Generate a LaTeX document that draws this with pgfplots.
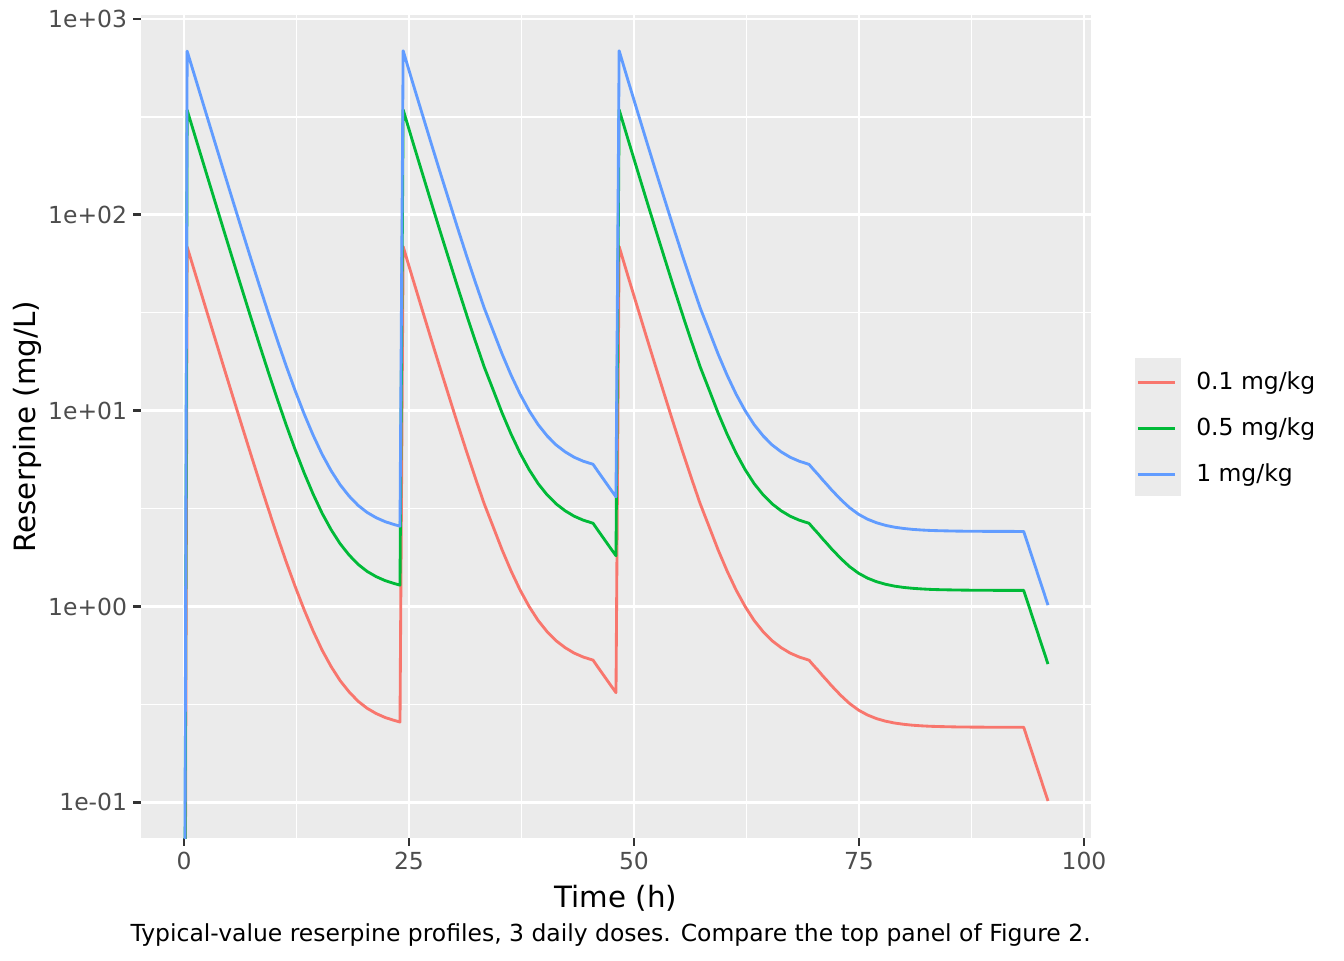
\documentclass[border=0pt]{standalone}
\usepackage{fontspec}
\setmainfont{DejaVu Sans}
\usepackage{pgfplots}
\pgfplotsset{compat=1.18}
\definecolor{ggred}{HTML}{F8766D}
\definecolor{gggreen}{HTML}{00BA38}
\definecolor{ggblue}{HTML}{619CFF}
\definecolor{panelbg}{HTML}{EBEBEB}
\definecolor{gray30}{HTML}{4D4D4D}
\definecolor{gray20}{HTML}{333333}
\newcommand{\smallfont}{\fontsize{8.8pt}{10.56pt}\selectfont}
\newcommand{\titlefont}{\fontsize{11pt}{13.2pt}\selectfont}
\begin{document}
\begin{tikzpicture}
\useasboundingbox (0,0) rectangle (504pt,360pt);
% grey backing of the legend keys
\fill[panelbg] (425.6pt,174.1pt) rectangle (442.9pt,225.75pt);
\begin{axis}[
  at={(52.8pt,45.6375pt)}, anchor=south west,
  scale only axis, width=356.4pt, height=308.74pt,
  xmin=-4.8, xmax=100.8,
  ymode=log, ymin=0.06548, ymax=1047.6,
  axis background/.style={fill=panelbg},
  axis line style={draw=none},
  xtick={0,25,50,75,100}, xticklabels={0,25,50,75,100},
  minor xtick={12.5,37.5,62.5,87.5},
  ytick={0.1,1,10,100,1000},
  yticklabels={1e-01,1e+00,1e+01,1e+02,1e+03},
  minor ytick={0.316227766,3.16227766,31.6227766,316.227766},
  grid=both,
  major grid style={white, line width=1.067pt},
  minor grid style={white, line width=0.533pt},
  tick align=outside, xtick pos=left, ytick pos=left,
  major tick length=2.75pt, minor tick length=0pt,
  tick style={gray20, line width=1.067pt},
  ticklabel style={font=\smallfont, text=gray30, inner sep=0pt},
  xticklabel shift=2.2pt, yticklabel shift=2.2pt,
  xlabel={Time (h)},
  xlabel style={font=\titlefont, at={(axis description cs:0.5,-0.08453)}, anchor=base, inner sep=0pt},
  ylabel={Reserpine (mg/L)},
  ylabel style={font=\titlefont, at={(axis description cs:-0.11027,0.5)}, anchor=base, inner sep=0pt},
  no markers,
  every axis plot/.append style={line width=1.067pt, line join=round},
  legend style={at={(1.04433,0.58209)}, anchor=north west, draw=none, fill=none,
    inner sep=0pt, outer sep=0pt, row sep=0pt, font=\smallfont,
    nodes={inner sep=0pt}},
  legend cell align=left,
  legend image code/.code={
    \draw[#1, line width=1.067pt] (1.73pt,0pt) -- (15.55pt,0pt);
    \path[draw=none, fill=none] (0pt,-8.64pt) rectangle (23.6pt,8.64pt);
  },
]
\addplot[ggred] coordinates {
(0,0.0001) (0.35,68.5) (1.35,48.37) (2.35,34.16) (3.35,24.14) (4.35,17.08)
(5.35,12.11) (6.35,8.607) (7.35,6.134) (8.35,4.393) (9.35,3.167) (10.35,2.303)
(11.35,1.693) (12.35,1.265) (13.35,0.962) (14.35,0.749) (15.35,0.598) (16.35,0.493)
(17.35,0.418) (18.35,0.366) (19.35,0.328) (20.35,0.302) (21.35,0.284) (22.35,0.271)
(23.35,0.262) (24.0,0.257)
(24.35,68.8) (25.35,48.3) (26.35,34.1) (27.35,24.1) (28.35,17.1) (29.35,12.2)
(30.35,8.71) (31.35,6.27) (32.35,4.56) (33.35,3.35) (34.35,2.553) (35.35,1.943)
(36.35,1.515) (37.35,1.212) (38.35,0.999) (39.35,0.848) (40.35,0.743) (41.35,0.668)
(42.35,0.616) (43.35,0.578) (44.35,0.552) (45.45,0.532)
(45.95,0.4927) (46.45,0.4572) (46.95,0.4242) (47.45,0.3936) (48.0,0.363)
(48.35,68.8) (49.35,48.3) (50.35,34.1) (51.35,24.1) (52.35,17.1) (53.35,12.2)
(54.35,8.71) (55.35,6.27) (56.35,4.56) (57.35,3.35) (58.35,2.553) (59.35,1.943)
(60.35,1.515) (61.35,1.212) (62.35,0.999) (63.35,0.848) (64.35,0.743) (65.35,0.668)
(66.35,0.616) (67.35,0.578) (68.35,0.552) (69.45,0.5316)
(69.95,0.500) (70.45,0.4719) (70.95,0.4434) (71.45,0.4184) (71.95,0.3938) (72.45,0.3727)
(72.95,0.3525) (73.45,0.3355) (73.95,0.3196) (74.95,0.2956) (75.95,0.2790) (76.95,0.2675)
(77.95,0.2595) (78.95,0.2540) (79.95,0.2502) (80.95,0.2475) (81.95,0.2457) (82.95,0.2444)
(83.95,0.2436) (85.95,0.2425) (87.95,0.2420) (90.5,0.2417) (93.3,0.2416) (96.0,0.1016)
};
\addlegendentry{0.1 mg/kg}
\addplot[gggreen] coordinates {
(0,0.0005) (0.35,342.5) (1.35,241.85) (2.35,170.8) (3.35,120.7) (4.35,85.4)
(5.35,60.55) (6.35,43.04) (7.35,30.67) (8.35,21.97) (9.35,15.84) (10.35,11.52)
(11.35,8.465) (12.35,6.325) (13.35,4.81) (14.35,3.745) (15.35,2.99) (16.35,2.465)
(17.35,2.09) (18.35,1.83) (19.35,1.64) (20.35,1.51) (21.35,1.42) (22.35,1.355)
(23.35,1.31) (24.0,1.285)
(24.35,344) (25.35,241.5) (26.35,170.5) (27.35,120.5) (28.35,85.5) (29.35,61)
(30.35,43.55) (31.35,31.35) (32.35,22.8) (33.35,16.75) (34.35,12.77) (35.35,9.715)
(36.35,7.575) (37.35,6.06) (38.35,4.995) (39.35,4.24) (40.35,3.715) (41.35,3.34)
(42.35,3.08) (43.35,2.89) (44.35,2.76) (45.45,2.66)
(45.95,2.464) (46.45,2.286) (46.95,2.121) (47.45,1.968) (48.0,1.815)
(48.35,344) (49.35,241.5) (50.35,170.5) (51.35,120.5) (52.35,85.5) (53.35,61)
(54.35,43.55) (55.35,31.35) (56.35,22.8) (57.35,16.75) (58.35,12.77) (59.35,9.715)
(60.35,7.575) (61.35,6.06) (62.35,4.995) (63.35,4.24) (64.35,3.715) (65.35,3.34)
(66.35,3.08) (67.35,2.89) (68.35,2.76) (69.45,2.658)
(69.95,2.500) (70.45,2.360) (70.95,2.217) (71.45,2.092) (71.95,1.969) (72.45,1.864)
(72.95,1.763) (73.45,1.678) (73.95,1.598) (74.95,1.478) (75.95,1.395) (76.95,1.338)
(77.95,1.298) (78.95,1.270) (79.95,1.251) (80.95,1.238) (81.95,1.229) (82.95,1.222)
(83.95,1.218) (85.95,1.213) (87.95,1.210) (90.5,1.2085) (93.3,1.208) (96.0,0.508)
};
\addlegendentry{0.5 mg/kg}
\addplot[ggblue] coordinates {
(0,0.001) (0.35,685) (1.35,483.7) (2.35,341.6) (3.35,241.4) (4.35,170.8)
(5.35,121.1) (6.35,86.07) (7.35,61.34) (8.35,43.93) (9.35,31.67) (10.35,23.03)
(11.35,16.93) (12.35,12.65) (13.35,9.62) (14.35,7.49) (15.35,5.98) (16.35,4.93)
(17.35,4.18) (18.35,3.66) (19.35,3.28) (20.35,3.02) (21.35,2.84) (22.35,2.71)
(23.35,2.62) (24.0,2.57)
(24.35,688) (25.35,483) (26.35,341) (27.35,241) (28.35,171) (29.35,122)
(30.35,87.1) (31.35,62.7) (32.35,45.6) (33.35,33.5) (34.35,25.53) (35.35,19.43)
(36.35,15.15) (37.35,12.12) (38.35,9.99) (39.35,8.48) (40.35,7.43) (41.35,6.68)
(42.35,6.16) (43.35,5.78) (44.35,5.52) (45.45,5.32)
(45.95,4.927) (46.45,4.572) (46.95,4.242) (47.45,3.936) (48.0,3.63)
(48.35,688) (49.35,483) (50.35,341) (51.35,241) (52.35,171) (53.35,122)
(54.35,87.1) (55.35,62.7) (56.35,45.6) (57.35,33.5) (58.35,25.53) (59.35,19.43)
(60.35,15.15) (61.35,12.12) (62.35,9.99) (63.35,8.48) (64.35,7.43) (65.35,6.68)
(66.35,6.16) (67.35,5.78) (68.35,5.52) (69.45,5.316)
(69.95,5.000) (70.45,4.719) (70.95,4.434) (71.45,4.184) (71.95,3.938) (72.45,3.727)
(72.95,3.525) (73.45,3.355) (73.95,3.196) (74.95,2.956) (75.95,2.790) (76.95,2.675)
(77.95,2.595) (78.95,2.540) (79.95,2.502) (80.95,2.475) (81.95,2.457) (82.95,2.444)
(83.95,2.436) (85.95,2.425) (87.95,2.420) (90.5,2.417) (93.3,2.416) (96.0,1.016)
};
\addlegendentry{1 mg/kg}
\end{axis}
\node[anchor=base east, font=\smallfont, inner sep=0pt] at (409.2pt,6.94pt)
  {Typical-value reserpine profiles, 3 daily doses. Compare the top panel of Figure 2.};
\end{tikzpicture}
\end{document}
